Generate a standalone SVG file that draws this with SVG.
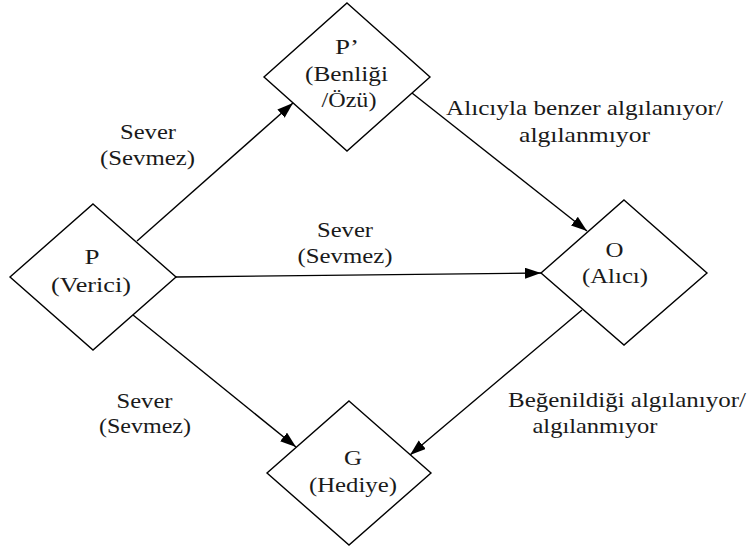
<svg xmlns="http://www.w3.org/2000/svg" width="748" height="550" viewBox="0 0 748 550">
<style>
.node{fill:#fff;stroke:#000;stroke-width:1.4}
.edge{fill:none;stroke:#000;stroke-width:1.4}
text{font-family:"Liberation Serif","Times New Roman",serif;font-size:21px;fill:#1a1a1a;text-anchor:middle}
</style>
<defs>
<marker id="arr" markerUnits="userSpaceOnUse" markerWidth="17" markerHeight="12" refX="16" refY="5.5" orient="auto">
<path d="M0,0 L16,5.5 L0,11 z" fill="#000"/>
</marker>
</defs>
<g id="connectors">
<line class="edge" x1="137" y1="241" x2="293" y2="103" marker-end="url(#arr)"/>
<line class="edge" x1="176" y1="277" x2="541" y2="273" marker-end="url(#arr)"/>
<line class="edge" x1="412" y1="93" x2="587" y2="231" marker-end="url(#arr)"/>
<line class="edge" x1="133" y1="315" x2="296" y2="447" marker-end="url(#arr)"/>
<line class="edge" x1="582" y1="310" x2="410" y2="455" marker-end="url(#arr)"/>
</g>
<g id="node-pprime">
<polygon class="node" points="347,3 430,77 347,151 264,77"/>
<text x="347" y="54" textLength="24" lengthAdjust="spacingAndGlyphs">P’</text>
<text x="346.5" y="81" textLength="83" lengthAdjust="spacingAndGlyphs">(Benliği</text>
<text x="349" y="107" textLength="55" lengthAdjust="spacingAndGlyphs">/Özü)</text>
</g>
<g id="node-p">
<polygon class="node" points="93,204 176,277 93,350 10,277"/>
<text x="92" y="264" textLength="15" lengthAdjust="spacingAndGlyphs">P</text>
<text x="91" y="292" textLength="80" lengthAdjust="spacingAndGlyphs">(Verici)</text>
</g>
<g id="node-o">
<polygon class="node" points="624,200 707,273 624,345 541,273"/>
<text x="614.5" y="257" textLength="18" lengthAdjust="spacingAndGlyphs">O</text>
<text x="615" y="283" textLength="66" lengthAdjust="spacingAndGlyphs">(Alıcı)</text>
</g>
<g id="node-g">
<polygon class="node" points="349,401 431,473 349,545 267,473"/>
<text x="353" y="465" textLength="18" lengthAdjust="spacingAndGlyphs">G</text>
<text x="353" y="492" textLength="88" lengthAdjust="spacingAndGlyphs">(Hediye)</text>
</g>
<g id="labels">
<text x="148" y="139" textLength="56" lengthAdjust="spacingAndGlyphs">Sever</text>
<text x="147.5" y="165" textLength="95" lengthAdjust="spacingAndGlyphs">(Sevmez)</text>
<text x="345" y="237" textLength="56" lengthAdjust="spacingAndGlyphs">Sever</text>
<text x="345" y="263" textLength="95" lengthAdjust="spacingAndGlyphs">(Sevmez)</text>
<text x="144.5" y="408" textLength="56" lengthAdjust="spacingAndGlyphs">Sever</text>
<text x="145" y="433" textLength="92" lengthAdjust="spacingAndGlyphs">(Sevmez)</text>
<text x="584.5" y="115" textLength="277" lengthAdjust="spacingAndGlyphs">Alıcıyla benzer algılanıyor/</text>
<text x="584.5" y="142" textLength="131" lengthAdjust="spacingAndGlyphs">algılanmıyor</text>
<text x="627" y="407" textLength="238" lengthAdjust="spacingAndGlyphs">Beğenildiği algılanıyor/</text>
<text x="595" y="433" textLength="125" lengthAdjust="spacingAndGlyphs">algılanmıyor</text>
</g>
</svg>
